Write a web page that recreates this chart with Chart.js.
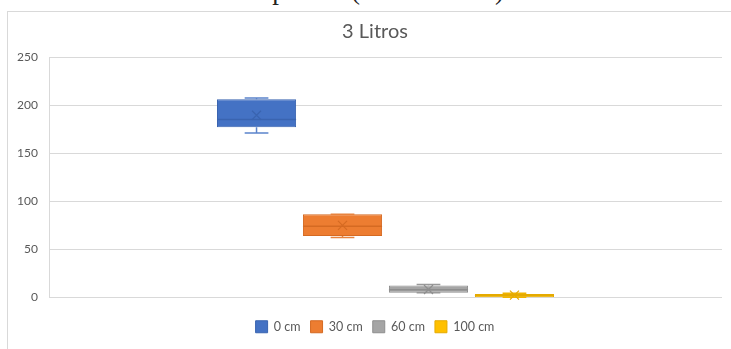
<!DOCTYPE html>
<html>
<head>
<meta charset="utf-8">
<script src="https://cdn.jsdelivr.net/npm/chart.js@4.4.1/dist/chart.umd.min.js"></script>
<style>
  html, body { margin: 0; padding: 0; background: #ffffff; }
  body { width: 731px; height: 349px; position: relative; overflow: hidden; }
  #doc-line {
    position: absolute; left: 48px; top: -24px; line-height: 1.1;
    font-family: "Liberation Serif", serif; font-size: 27px; color: #222;
    white-space: nowrap;
  }
  #frame {
    position: absolute; left: 7px; top: 11px; width: 760px; height: 400px;
    border: 1px solid #d9d9d9; box-sizing: border-box; background: #fff;
  }
  #wrap { position: absolute; left: 0; top: 0; width: 760px; height: 349px; }
</style>
</head>
<body>
<div id="doc-line">Intensidade de 1000 pontos (1000 x 1000).</div>
<div id="frame"></div>
<div id="wrap"><canvas id="chart"></canvas></div>
<script>
// Box-and-whisker summary for each depth (3 litres)
const seriesNames  = ['0 cm', '30 cm', '60 cm', '100 cm'];
const minValues    = [171, 62.5, 5, 0.2];
const q1Values     = [177, 64, 5, 0.2];
const medianValues = [185, 74, 8, 2];
const q3Values     = [206, 86.5, 12.5, 3.6];
const maxValues    = [207.5, 86.5, 13.5, 4.5];
const meanValues   = [189.5, 75, 8.3, 2.5];
const yTicks       = [0, 50, 100, 150, 200, 250];

const fillColors   = ['#4472C4', '#ED7D31', '#A5A5A5', '#FFC000'];
const edgeColors   = ['#3A64B0', '#D56A22', '#8E8E8E', '#E5AA00'];
const whiskerColors = ['#5B84CC', '#E8833E', '#999999', '#F0B400'];

const datasets = seriesNames.map((name, i) => ({
  label: name,
  data: [[q1Values[i], q3Values[i]]],
  backgroundColor: fillColors[i],
  borderColor: edgeColors[i],
  borderWidth: 1,
  borderSkipped: false,
  categoryPercentage: 0.511,
  barPercentage: 0.92,
  yAxisID: 'y'
}));

// Whiskers, median line and mean marker drawn from the same summary arrays
const boxExtras = {
  id: 'boxExtras',
  afterDatasetsDraw(chart) {
    const ctx = chart.ctx;
    const y = chart.scales.y;
    chart.data.datasets.forEach((ds, i) => {
      const bar = chart.getDatasetMeta(i).data[0];
      if (!bar) return;
      const cx = bar.x;
      const half = bar.width / 2;
      const cap = bar.width * 0.15;
      const yMin = y.getPixelForValue(minValues[i]);
      const yMax = y.getPixelForValue(maxValues[i]);
      const yQ1 = y.getPixelForValue(q1Values[i]);
      const yQ3 = y.getPixelForValue(q3Values[i]);
      const yMed = y.getPixelForValue(medianValues[i]);
      const yMean = y.getPixelForValue(meanValues[i]);
      ctx.save();
      ctx.strokeStyle = whiskerColors[i];
      ctx.lineWidth = 1.5;
      ctx.beginPath();
      // upper whisker
      ctx.moveTo(cx, yQ3); ctx.lineTo(cx, yMax);
      ctx.moveTo(cx - cap, yMax); ctx.lineTo(cx + cap, yMax);
      // lower whisker
      ctx.moveTo(cx, yQ1); ctx.lineTo(cx, yMin);
      ctx.moveTo(cx - cap, yMin); ctx.lineTo(cx + cap, yMin);
      ctx.stroke();
      // median
      ctx.strokeStyle = edgeColors[i];
      ctx.beginPath();
      ctx.moveTo(cx - half, yMed); ctx.lineTo(cx + half, yMed);
      ctx.stroke();
      // mean marker
      const m = 4.5;
      ctx.lineWidth = 1.2;
      ctx.beginPath();
      ctx.moveTo(cx - m, yMean - m); ctx.lineTo(cx + m, yMean + m);
      ctx.moveTo(cx - m, yMean + m); ctx.lineTo(cx + m, yMean - m);
      ctx.stroke();
      ctx.restore();
    });
  }
};

new Chart(document.getElementById('chart'), {
  type: 'bar',
  data: { labels: [''], datasets },
  plugins: [boxExtras],
  options: {
    responsive: true,
    maintainAspectRatio: false,
    animation: false,
    layout: { padding: { left: 17, right: 27, top: 13, bottom: 6 } },
    plugins: {
      title: {
        display: true,
        text: '3 Litros',
        color: '#595959',
        font: { family: 'Lato', size: 20, weight: 'normal' },
        padding: { top: 7, bottom: 13 }
      },
      legend: {
        position: 'bottom',
        labels: {
          color: '#595959',
          font: { family: 'Lato', size: 12.5 },
          boxWidth: 12,
          boxHeight: 12,
          padding: 10
        }
      },
      tooltip: { enabled: false }
    },
    scales: {
      x: {
        display: true,
        afterFit(scale) { scale.height = 13; },
        ticks: { display: false },
        grid: { display: false },
        border: { display: false }
      },
      y: {
        min: 0,
        max: 250,
        afterBuildTicks(scale) { scale.ticks = yTicks.map(v => ({ value: v })); },
        afterFit(scale) { scale.width = 32; },
        ticks: {
          color: '#595959',
          font: { family: 'Lato', size: 12 },
          padding: 11
        },
        grid: { color: '#d9d9d9', drawTicks: false },
        border: { display: true, color: '#d9d9d9' }
      },
      yRight: {
        position: 'right',
        display: true,
        min: 0,
        max: 250,
        afterFit(scale) { scale.width = 11; },
        ticks: { display: false },
        grid: { display: false },
        border: { display: false }
      }
    }
  }
});
</script>
</body>
</html>
